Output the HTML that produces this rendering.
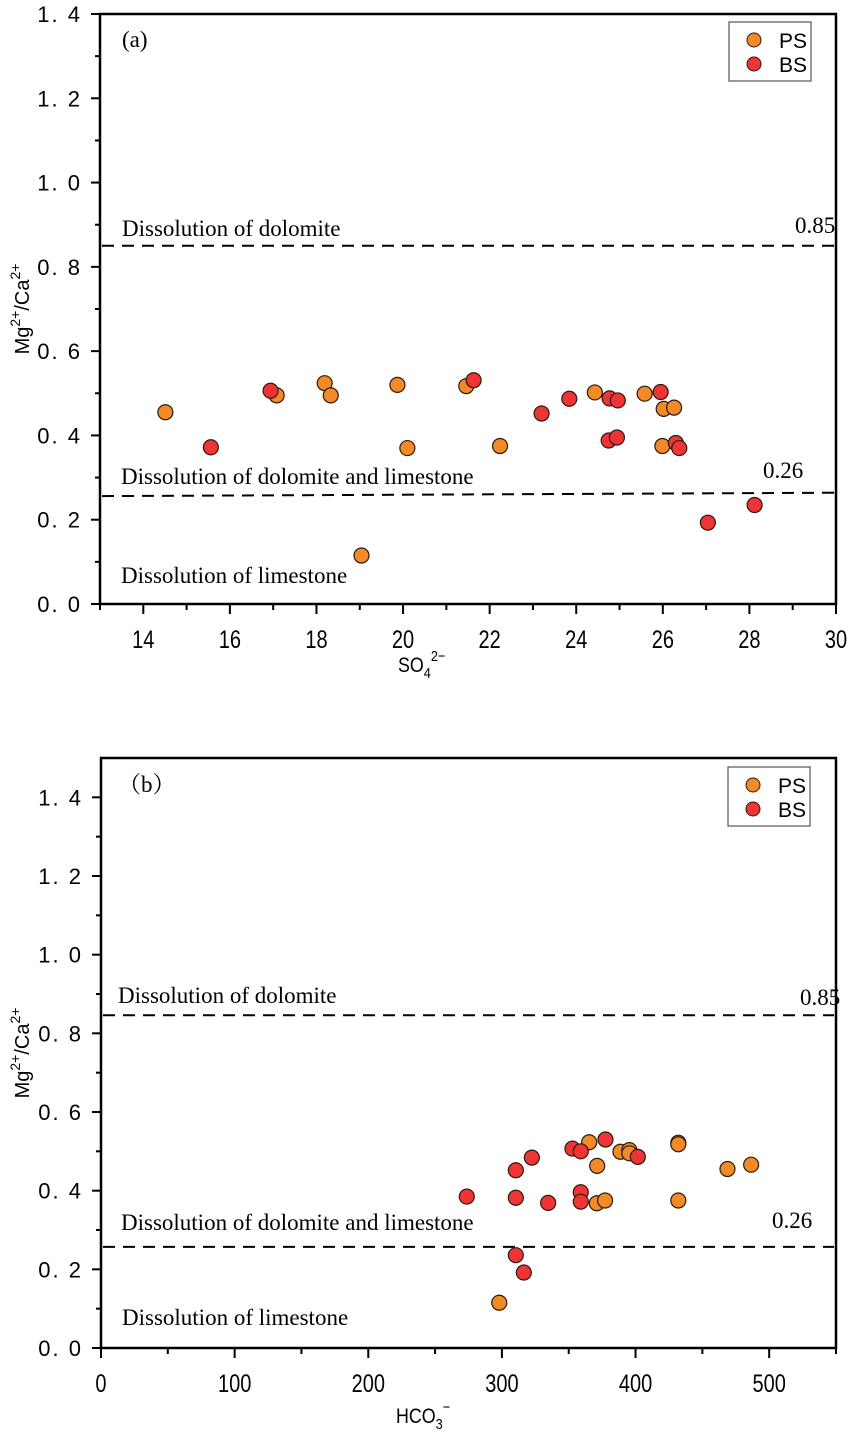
<!DOCTYPE html>
<html><head><meta charset="utf-8"><style>
html,body{margin:0;padding:0;background:#fff;}
svg{display:block;}
</style></head><body>
<svg id="chart" width="851" height="1442" viewBox="0 0 851 1442" xmlns="http://www.w3.org/2000/svg"></svg>
<script>
// ---- Panel (a) data: SO4 vs Mg/Ca ----
const aPSx = [14.51,17.08,18.19,18.33,19.87,20.1,19.04,21.46,22.24,24.43,25.58,26.02,26.26,25.99];
const aPSy = [0.455,0.495,0.524,0.495,0.52,0.37,0.115,0.517,0.375,0.502,0.499,0.463,0.466,0.375];
const aBSx = [15.56,16.94,21.63,23.2,23.84,24.77,24.96,24.75,24.94,25.95,26.3,26.38,27.04,28.12];
const aBSy = [0.372,0.506,0.531,0.452,0.487,0.488,0.483,0.388,0.395,0.503,0.382,0.37,0.193,0.235];
const aXTicks = [14,16,18,20,22,24,26,28,30];
const aYTicks = [0.0,0.2,0.4,0.6,0.8,1.0,1.2,1.4];
// ---- Panel (b) data: HCO3 vs Mg/Ca ----
const bPSx = [298,365.3,371.3,388.7,395.4,395.4,432,432,468.8,486.5,371,377.2,432];
const bPSy = [0.115,0.523,0.463,0.499,0.503,0.495,0.522,0.518,0.455,0.466,0.368,0.375,0.375];
const bBSx = [273.7,310.4,322.4,310.4,334.6,310.4,316.4,352.8,359,377.5,401.7,359,359];
const bBSy = [0.385,0.452,0.484,0.382,0.369,0.236,0.192,0.507,0.5,0.53,0.486,0.396,0.372];
const bXTicks = [0,100,200,300,400,500];
const bYTicks = [0.0,0.2,0.4,0.6,0.8,1.0,1.2,1.4];

const NS='http://www.w3.org/2000/svg';
const svg=document.getElementById('chart');
function el(tag,attrs,parent,text){const e=document.createElementNS(NS,tag);for(const k in attrs)e.setAttribute(k,attrs[k]);if(text!==undefined)e.textContent=text;(parent||svg).appendChild(e);return e;}

function panel(cfg){
  const g=el('g',{});
  
  
  const L=cfg.left,R=cfg.right,T=cfg.top,B=cfg.bottom;
  const sx=v=>L+(v-cfg.xmin)/(cfg.xmax-cfg.xmin)*(R-L);
  const sy=v=>B-(v-cfg.ymin)/(cfg.ymax-cfg.ymin)*(B-T);
  const frame=el('rect',{x:L,y:T,width:R-L,height:B-T,fill:'none',stroke:'#000','stroke-width':2.5},g);
  
  
  for(const t of cfg.yTicks){
    const y=sy(t);
    const tk=el('line',{x1:L-9,x2:L,y1:y,y2:y,stroke:'#000','stroke-width':2},g);
    
    
    const lb=el('text',{x:L-18,y:y+8,'text-anchor':'end','font-family':'Liberation Sans, sans-serif','font-size':22,'letter-spacing':'2'},g,t.toFixed(1).replace('.','. '));
    
    
    const m=t+cfg.yMinor;
    if(m<cfg.ymax){const my=sy(m);const mk=el('line',{x1:L-5,x2:L,y1:my,y2:my,stroke:'#000','stroke-width':2},g);
      
      }
  }
  for(let v=cfg.xmin; v<=cfg.xmax+1e-9; v+=cfg.xMinor){
    const x=sx(v);
    const major=cfg.xTicks.some(t=>Math.abs(t-v)<1e-6);
    const tk=el('line',{x1:x,x2:x,y1:B,y2:B+(major?10:6),stroke:'#000','stroke-width':2},g);
    
    
  }
  for(const t of cfg.xTicks){
    const lb=el('text',{x:sx(t),y:B+44,'text-anchor':'middle','font-family':'Liberation Sans, sans-serif','font-size':25,transform:`translate(${sx(t)},0) scale(0.8,1) translate(${-sx(t)},0)`},g,String(t));
    
    
  }
  for(const d of cfg.dashes){
    const ln=el('line',{x1:L+2,x2:R-2,y1:sy(d[0]),y2:sy(d[1]),stroke:'#000','stroke-width':2,'stroke-dasharray':'12 8'},g);
    
    
  }
  for(const a of cfg.notes){
    const tx=el('text',{x:a[0],y:a[1],'font-family':'Liberation Serif, "Noto Serif CJK SC", serif','font-size':23},g,a[2]);
    
    
  }
  function pts(xs,ys,fill,nm){
    for(let i=0;i<xs.length;i++){
      const c=el('circle',{cx:sx(xs[i]),cy:sy(ys[i]),r:7.5,fill:fill,stroke:'#2a1a10','stroke-width':1.2},g);
      
      
    }
  }
  pts(cfg.psx,cfg.psy,'#f28a28','ps-point');
  pts(cfg.bsx,cfg.bsy,'#ee3434','bs-point');
  const lg=el('g',{},g);
  
  
  el('rect',{x:cfg.lx,y:cfg.ly,width:82,height:59,fill:'#fff',stroke:'#555','stroke-width':1.2},lg);
  const e1=el('circle',{cx:cfg.lx+25,cy:cfg.ly+18,r:7,fill:'#f28a28',stroke:'#2a1a10','stroke-width':1},lg);
  
  
  el('text',{x:cfg.lx+50,y:cfg.ly+26,'font-family':'Liberation Sans, sans-serif','font-size':21},lg,'PS');
  const e2=el('circle',{cx:cfg.lx+25,cy:cfg.ly+42,r:7,fill:'#ee3434',stroke:'#2a1a10','stroke-width':1},lg);
  
  
  el('text',{x:cfg.lx+50,y:cfg.ly+50,'font-family':'Liberation Sans, sans-serif','font-size':21},lg,'BS');
  const yc=(T+B)/2;
  const yt=el('text',{x:29,y:yc,'text-anchor':'middle','font-family':'Liberation Sans, sans-serif','font-size':20,transform:`rotate(-90 29 ${yc})`},g);
  
  
  yt.innerHTML='Mg<tspan dy="-9" font-size="14">2+</tspan><tspan dy="9">/Ca</tspan><tspan dy="-9" font-size="14">2+</tspan>';
  const xt=el('text',{x:cfg.xtx,y:cfg.xty,'font-family':'Liberation Sans, sans-serif','font-size':21,transform:`translate(${cfg.xtx},0) scale(0.85,1) translate(${-cfg.xtx},0)`},g);
  
  
  xt.innerHTML=cfg.xtitle;
}

panel({name:'panel-a',left:100,right:836,top:14,bottom:604,xmin:13,xmax:30,ymin:0,ymax:1.4,
  xTicks:aXTicks,yTicks:aYTicks,xMinor:1,yMinor:0.1,
  dashes:[[0.85,0.85,'085'],[0.256,0.264,'026']],
  notes:[[122,47,'(a)','panel-label'],[122,236,'Dissolution of dolomite','note-dolomite'],[795,233,'0.85','value-085'],
    [121,484,'Dissolution of dolomite and limestone','note-dolomite-limestone'],[763,478,'0.26','value-026'],[121,583,'Dissolution of limestone','note-limestone']],
  psx:aPSx,psy:aPSy,bsx:aBSx,bsy:aBSy,lx:729,ly:22,
  xtx:398,xty:672,xtitle:'SO<tspan dy="6" font-size="15">4</tspan><tspan dy="-17" font-size="15">2−</tspan>'});

panel({name:'panel-b',left:101,right:836,top:758,bottom:1348,xmin:0,xmax:550,ymin:0,ymax:1.5,
  xTicks:bXTicks,yTicks:bYTicks,xMinor:50,yMinor:0.1,
  dashes:[[0.846,0.846,'085'],[0.257,0.257,'026']],
  notes:[[118,792,'（b）','panel-label'],[118,1003,'Dissolution of dolomite','note-dolomite'],[800,1005,'0.85','value-085'],
    [121,1230,'Dissolution of dolomite and limestone','note-dolomite-limestone'],[772,1228,'0.26','value-026'],[122,1325,'Dissolution of limestone','note-limestone']],
  psx:bPSx,psy:bPSy,bsx:bBSx,bsy:bBSy,lx:728,ly:767,
  xtx:396,xty:1423,xtitle:'HCO<tspan dy="6" font-size="15">3</tspan><tspan dy="-17" font-size="15">−</tspan>'});
</script>
</body></html>
